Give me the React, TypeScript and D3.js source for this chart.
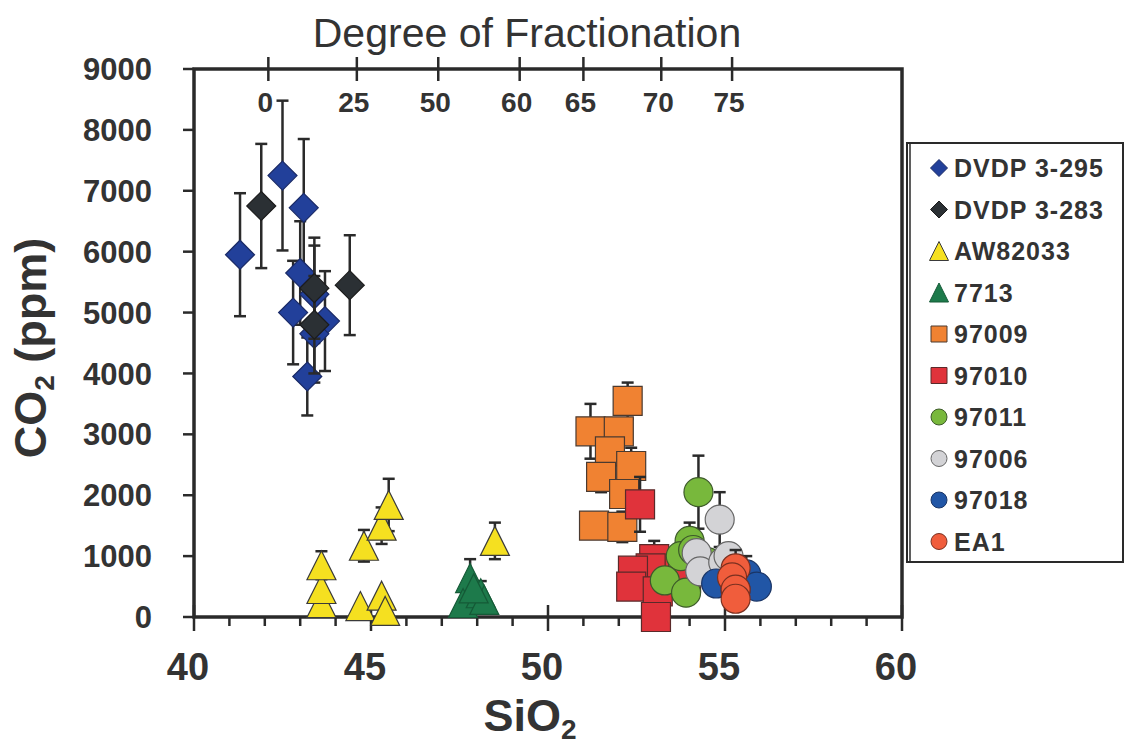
import * as d3 from 'd3';

// SiO2 / CO2 / error values
const dvdp295Si = [41.3, 42.5, 43.1, 43.0, 42.8, 43.2, 43.7, 43.4, 43.4];
const dvdp295Co2 = [5950, 7250, 6720, 5650, 5000, 3950, 4860, 4650, 5300];
const dvdp295Err = [1010, 1230, 1130, 850, 850, 640, 820, 800, 800];

const dvdp283Si = [41.9, 43.4, 43.4, 44.4];
const dvdp283Co2 = [6750, 5400, 4800, 5450];
const dvdp283Err = [1020, 830, 800, 820];

const aw82033Si = [43.6, 43.6, 43.6, 44.7, 44.8, 45.3, 45.5, 45.3, 45.4, 48.5];
const aw82033Co2 = [230, 460, 850, 180, 1170, 1500, 1840, 350, 100, 1250];
const aw82033Err = [0, 0, 230, 0, 260, 300, 430, 0, 0, 300];

const s7713Si = [47.8, 47.6, 48.1, 48.2, 47.9];
const s7713Co2 = [640, 230, 390, 280, 470];
const s7713Err = [310, 0, 200, 0, 0];

const s97009Si = [52.25, 51.2, 52.0, 51.75, 52.35, 51.5, 52.15, 51.3, 52.1];
const s97009Co2 = [3550, 3050, 3050, 2720, 2480, 2300, 2020, 1500, 1480];
const s97009Err = [300, 450, 0, 300, 300, 250, 0, 0, 250];

const s97010Si = [52.6, 53.0, 52.9, 52.4, 52.35, 53.1, 53.05, 53.9];
const s97010Co2 = [1850, 950, 800, 760, 500, 420, 0, 650];
const s97010Err = [450, 300, 0, 0, 0, 0, 0, 0];

const s97011Si = [54.25, 54.0, 53.75, 53.3, 53.9, 54.5, 54.1];
const s97011Co2 = [2050, 1250, 1000, 600, 400, 900, 1100];
const s97011Err = [600, 300, 0, 0, 0, 0, 0];

const s97006Si = [54.85, 54.2, 54.3, 54.95, 55.1];
const s97006Co2 = [1600, 1050, 750, 900, 1000];
const s97006Err = [450, 0, 0, 250, 0];

const s97018Si = [54.75, 55.6, 55.9, 55.3];
const s97018Co2 = [550, 700, 500, 450];
const s97018Err = [0, 300, 0, 0];

const ea1Si = [55.3, 55.2, 55.3, 55.3];
const ea1Co2 = [800, 650, 450, 300];
const ea1Err = [300, 0, 0, 0];

const xTicks = [40, 45, 50, 55, 60];
const yTicks = [0, 1000, 2000, 3000, 4000, 5000, 6000, 7000, 8000, 9000];
const fracLabels = ['0', '25', '50', '60', '65', '70', '75'];
const fracSi = [42.1, 44.6, 46.9, 49.2, 51.0, 53.2, 55.2];

type Shape = 'diamond' | 'triangle' | 'square' | 'circle';

interface Series {
  name: string;
  shape: Shape;
  fill: string;
  stroke: string;
  si: number[];
  co2: number[];
  err: number[];
}

const series: Series[] = [
  { name: 'DVDP 3-295', shape: 'diamond', fill: '#22409a', stroke: '#1a2a66', si: dvdp295Si, co2: dvdp295Co2, err: dvdp295Err },
  { name: 'DVDP 3-283', shape: 'diamond', fill: '#2b3034', stroke: '#1c1c1c', si: dvdp283Si, co2: dvdp283Co2, err: dvdp283Err },
  { name: 'AW82033', shape: 'triangle', fill: '#f5e020', stroke: '#3a3a3a', si: aw82033Si, co2: aw82033Co2, err: aw82033Err },
  { name: '7713', shape: 'triangle', fill: '#1d7a4b', stroke: '#155a37', si: s7713Si, co2: s7713Co2, err: s7713Err },
  { name: '97009', shape: 'square', fill: '#f08232', stroke: '#4a3a30', si: s97009Si, co2: s97009Co2, err: s97009Err },
  { name: '97010', shape: 'square', fill: '#e0333b', stroke: '#5a2a2a', si: s97010Si, co2: s97010Co2, err: s97010Err },
  { name: '97011', shape: 'circle', fill: '#78b83c', stroke: '#3d5a2a', si: s97011Si, co2: s97011Co2, err: s97011Err },
  { name: '97006', shape: 'circle', fill: '#d3d3d6', stroke: '#666', si: s97006Si, co2: s97006Co2, err: s97006Err },
  { name: '97018', shape: 'circle', fill: '#2156a6', stroke: '#1a3566', si: s97018Si, co2: s97018Co2, err: s97018Err },
  { name: 'EA1', shape: 'circle', fill: '#f05d3c', stroke: '#7a3020', si: ea1Si, co2: ea1Co2, err: ea1Err },
];

const W = 1126;
const H = 748;
const margin = { left: 194, right: 902, top: 69, bottom: 617 };
const ink = '#2a2a2a';
const font = '"Liberation Sans", Arial, sans-serif';

function markerPath(shape: Shape, s: number): string {
  const h = s / 2;
  if (shape === 'diamond') return `M0,${-h}L${h},0L0,${h}L${-h},0Z`;
  if (shape === 'triangle') return `M0,${-h}L${h},${h}L${-h},${h}Z`;
  if (shape === 'square') return `M${-h},${-h}H${h}V${h}H${-h}Z`;
  return d3.arc()({ innerRadius: 0, outerRadius: h, startAngle: 0, endAngle: 2 * Math.PI }) || '';
}

export default function App() {
  const x = d3.scaleLinear().domain([40, 60]).range([margin.left, margin.right]);
  const y = d3.scaleLinear().domain([0, 9000]).range([margin.bottom, margin.top]);
  const minor = d3.range(40, 61, 1);
  const size = 29;

  return (
    <svg width={W} height={H} style={{ position: 'absolute', left: 0, top: 0, background: '#fff' }} fontFamily={font}>
      {/* title */}
      <text x={527} y={47} textAnchor="middle" fontSize={41} fill="#333">Degree of Fractionation</text>

      {/* top fractionation axis */}
      {fracSi.map((v, i) => (
        <g key={'f' + i}>
          <line x1={x(v)} x2={x(v)} y1={margin.top - 12} y2={margin.top + 12} stroke={ink} strokeWidth={2.5} />
          <text x={x(v) - 3} y={112} textAnchor="middle" fontSize={28} fontWeight="bold" fill="#333">{fracLabels[i]}</text>
        </g>
      ))}

      {/* frame */}
      <rect x={margin.left} y={margin.top} width={margin.right - margin.left} height={margin.bottom - margin.top}
        fill="none" stroke={ink} strokeWidth={3.5} />

      {/* y ticks */}
      {yTicks.map(t => (
        <g key={'y' + t}>
          <line x1={margin.left - 11} x2={margin.left} y1={y(t)} y2={y(t)} stroke={ink} strokeWidth={2.5} />
          <text x={152} y={y(t)} dy="0.36em" textAnchor="end" fontSize={31} fontWeight="bold" fill="#333">{t}</text>
        </g>
      ))}

      {/* x ticks */}
      {minor.map(t => {
        const major = xTicks.includes(t);
        return (
          <line key={'xm' + t} x1={x(t)} x2={x(t)} y1={major ? margin.bottom - 12 : margin.bottom}
            y2={margin.bottom + (major ? 14 : 9)} stroke={ink} strokeWidth={2.5} />
        );
      })}
      {xTicks.map(t => (
        <text key={'xl' + t} x={x(t) - 6} y={680} textAnchor="middle" fontSize={38} fontWeight="bold" fill="#333">{t}</text>
      ))}

      {/* axis titles */}
      <text x={530} y={731} textAnchor="middle" fontSize={45} fontWeight="bold" fill="#333">
        SiO<tspan fontSize={28} dy={8}>2</tspan>
      </text>
      <text transform="translate(46,348) rotate(-90)" textAnchor="middle" fontSize={45} fontWeight="bold" fill="#333">
        CO<tspan fontSize={28} dy={8}>2</tspan><tspan dy={-8}> (ppm)</tspan>
      </text>

      {/* data */}
      {series.map(s => (
        <g key={s.name}>
          {s.si.map((v, i) => s.err[i] > 0 ? (
            <g key={'e' + i} stroke={ink} strokeWidth={2.5}>
              <line x1={x(v)} x2={x(v)} y1={y(s.co2[i] - s.err[i])} y2={y(s.co2[i] + s.err[i])} />
              <line x1={x(v) - 6} x2={x(v) + 6} y1={y(s.co2[i] + s.err[i])} y2={y(s.co2[i] + s.err[i])} />
              <line x1={x(v) - 6} x2={x(v) + 6} y1={y(s.co2[i] - s.err[i])} y2={y(s.co2[i] - s.err[i])} />
            </g>
          ) : null)}
          {s.si.map((v, i) => (
            <path key={'m' + i} d={markerPath(s.shape, size)} transform={`translate(${x(v)},${y(s.co2[i])})`}
              fill={s.fill} stroke={s.stroke} strokeWidth={1.2} />
          ))}
        </g>
      ))}

      {/* legend */}
      <rect x={907} y={143} width={216} height={419} fill="#fff" stroke={ink} strokeWidth={2} />
      <line x1={910} x2={910} y1={143} y2={562} stroke={ink} strokeWidth={1.5} />
      {series.map((s, i) => {
        const ly = 168 + i * 41.5;
        const ss = s.shape === 'triangle' ? 19 : s.shape === 'diamond' ? 17 : 16;
        return (
          <g key={'l' + s.name}>
            <path d={markerPath(s.shape, ss)} transform={`translate(${939},${ly})`} fill={s.fill} stroke={s.stroke} strokeWidth={1} />
            <text x={954} y={ly} dy="0.36em" fontSize={25} fontWeight="bold" fill="#333" letterSpacing={1}>{s.name}</text>
          </g>
        );
      })}
    </svg>
  );
}
